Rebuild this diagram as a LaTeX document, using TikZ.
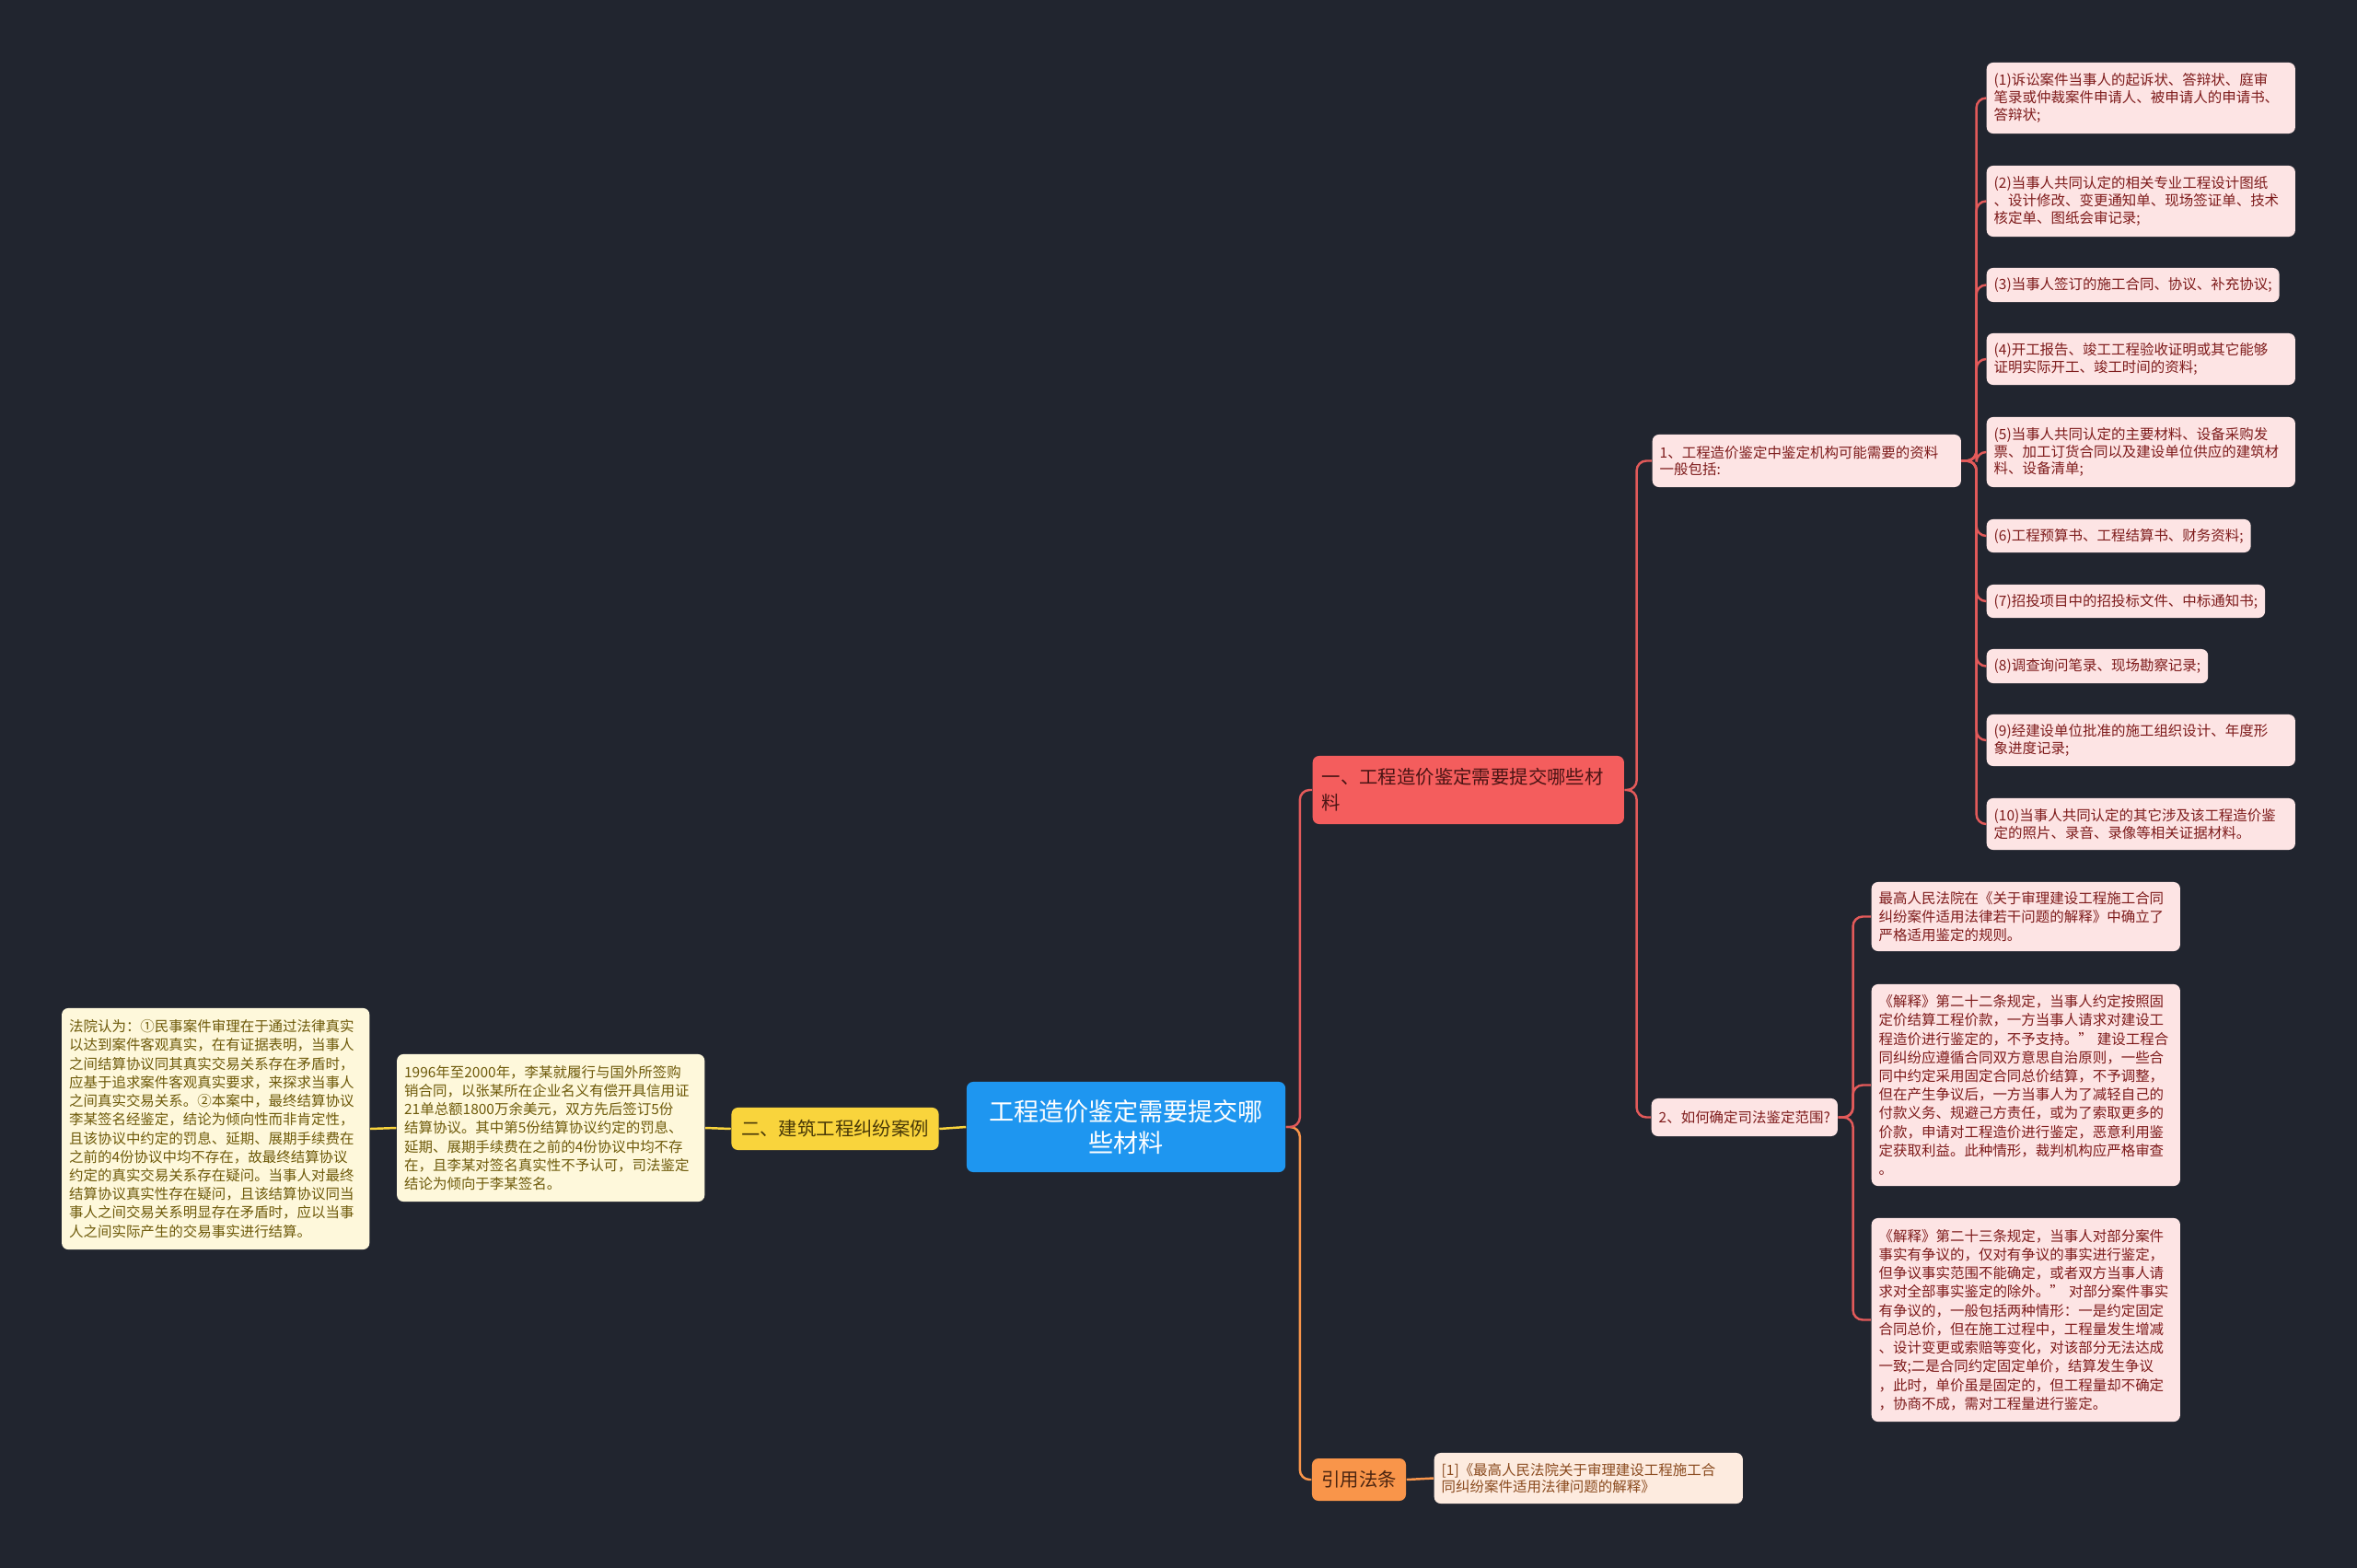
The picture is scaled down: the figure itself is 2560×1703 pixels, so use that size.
\documentclass[tikz,border=0pt]{standalone}
\usepackage{fontspec}
\setmainfont{Noto Sans CJK SC}
\usetikzlibrary{calc}
\definecolor{bgdark}{HTML}{21252F}
\definecolor{cBlue}{HTML}{1E96F0}
\definecolor{cRed}{HTML}{F45D5D}
\definecolor{cRedLine}{HTML}{E35A5A}
\definecolor{cRedTxt}{HTML}{4A1414}
\definecolor{cYellow}{HTML}{F9D43C}
\definecolor{cYellowTxt}{HTML}{4A3A08}
\definecolor{cOrange}{HTML}{F9954A}
\definecolor{cOrangeTxt}{HTML}{4A2410}
\definecolor{cPink}{HTML}{FDE4E4}
\definecolor{cPinkTxt}{HTML}{7E1B1B}
\definecolor{cCream}{HTML}{FEF8DB}
\definecolor{cCreamTxt}{HTML}{6E5A0A}
\definecolor{cPeach}{HTML}{FDEBDF}
\definecolor{cPeachTxt}{HTML}{8A4A1E}
\newcommand{\itemfont}{\fontsize{4.4}{5.3}\selectfont}
\newcommand{\notefont}{\fontsize{4.4}{5.75}\selectfont}

\begin{document}
\begin{tikzpicture}[x=0.01cm,y=-0.01cm,
  box/.style={rounded corners=2pt,inner xsep=0.08cm,inner ysep=0.05cm},
  mainbox/.style={box,fill=cBlue,text=white,align=center,minimum width=3.46cm,minimum height=0.98cm,font=\fontsize{7.7}{9.9}\selectfont},
  topicbox/.style={box,inner xsep=0.1cm,minimum height=0.46cm,font=\fontsize{5.8}{8}\selectfont},
  pinkbox/.style={box,fill=cPink,text=cPinkTxt,align=left,anchor=west,font=\itemfont},
  pinkwide/.style={pinkbox,text width=3.19cm},
  creambox/.style={box,fill=cCream,text=cCreamTxt,align=left,text width=3.18cm,font=\notefont},
  redline/.style={draw=cRedLine,line width=0.7pt,rounded corners=3pt},
  yellowline/.style={draw=cYellow,line width=0.7pt},
  orangeline/.style={draw=cOrange,line width=0.7pt,rounded corners=3pt}
]
\fill[bgdark] (0,0) rectangle (2560,1703);
\useasboundingbox (0,0) rectangle (2560,1703);

% centre
\node[mainbox] (root) at (1223,1224) {工程造价鉴定需要提交哪\\些材料};

% first level
\node[topicbox,fill=cRed,text=cRedTxt,anchor=west,text width=3.18cm,align=left,minimum height=0.74cm] (need) at (1425,858) {一、工程造价鉴定需要提交哪些材\\料};
\node[topicbox,fill=cYellow,text=cYellowTxt,minimum width=2.25cm] (case) at (907,1226) {二、建筑工程纠纷案例};
\node[topicbox,fill=cOrange,text=cOrangeTxt,minimum width=1.02cm] (cite) at (1476,1607) {引用法条};

% second level
\node[pinkwide,minimum height=0.57cm] (list) at (1794,500.5) {1、工程造价鉴定中鉴定机构可能需要的资料\\一般包括:};
\node[pinkbox,minimum height=0.41cm] (scope) at (1793,1213.5) {2、如何确定司法鉴定范围?};

% materials
\node[pinkwide,minimum height=0.77cm] (m1) at (2157,106.5) {(1)诉讼案件当事人的起诉状、答辩状、庭审\\笔录或仲裁案件申请人、被申请人的申请书、\\答辩状;};
\node[pinkwide,minimum height=0.77cm] (m2) at (2157,218.5) {(2)当事人共同认定的相关专业工程设计图纸\\、设计修改、变更通知单、现场签证单、技术\\核定单、图纸会审记录;};
\node[pinkbox,minimum height=0.37cm] (m3) at (2157,309.5) {(3)当事人签订的施工合同、协议、补充协议;};
\node[pinkwide,minimum height=0.56cm] (m4) at (2157,390) {(4)开工报告、竣工工程验收证明或其它能够\\证明实际开工、竣工时间的资料;};
\node[pinkwide,minimum height=0.76cm] (m5) at (2157,491) {(5)当事人共同认定的主要材料、设备采购发\\票、加工订货合同以及建设单位供应的建筑材\\料、设备清单;};
\node[pinkbox,minimum height=0.36cm] (m6) at (2157,582) {(6)工程预算书、工程结算书、财务资料;};
\node[pinkbox,minimum height=0.36cm] (m7) at (2157,653) {(7)招投项目中的招投标文件、中标通知书;};
\node[pinkbox,minimum height=0.37cm] (m8) at (2157,723.5) {(8)调查询问笔录、现场勘察记录;};
\node[pinkwide,minimum height=0.56cm] (m9) at (2157,804) {(9)经建设单位批准的施工组织设计、年度形\\象进度记录;};
\node[pinkwide,minimum height=0.56cm] (m10) at (2157,895) {(10)当事人共同认定的其它涉及该工程造价鉴\\定的照片、录音、录像等相关证据材料。};

% scope notes
\node[pinkwide,font=\notefont,minimum height=0.75cm] (s1) at (2032,995.5) {最高人民法院在《关于审理建设工程施工合同\\纠纷案件适用法律若干问题的解释》中确立了\\严格适用鉴定的规则。};
\node[pinkwide,font=\notefont,minimum height=2.19cm] (s2) at (2032,1178.5) {《解释》第二十二条规定，当事人约定按照固\\定价结算工程价款，一方当事人请求对建设工\\程造价进行鉴定的，不予支持。” 建设工程合\\同纠纷应遵循合同双方意思自治原则，一些合\\同中约定采用固定合同总价结算，不予调整，\\但在产生争议后，一方当事人为了减轻自己的\\付款义务、规避己方责任，或为了索取更多的\\价款，申请对工程造价进行鉴定，恶意利用鉴\\定获取利益。此种情形，裁判机构应严格审查\\。};
\node[pinkwide,font=\notefont,minimum height=2.21cm] (s3) at (2032,1433.5) {《解释》第二十三条规定，当事人对部分案件\\事实有争议的，仅对有争议的事实进行鉴定，\\但争议事实范围不能确定，或者双方当事人请\\求对全部事实鉴定的除外。” 对部分案件事实\\有争议的，一般包括两种情形：一是约定固定\\合同总价，但在施工过程中，工程量发生增减\\、设计变更或索赔等变化，对该部分无法达成\\一致;二是合同约定固定单价，结算发生争议\\，此时，单价虽是固定的，但工程量却不确定\\，协商不成，需对工程量进行鉴定。};

% case
\node[creambox,anchor=east,minimum height=1.6cm] (facts) at (766,1225) {1996年至2000年，李某就履行与国外所签购\\销合同，以张某所在企业名义有偿开具信用证\\21单总额1800万余美元，双方先后签订5份\\结算协议。其中第5份结算协议约定的罚息、\\延期、展期手续费在之前的4份协议中均不存\\在，且李某对签名真实性不予认可，司法鉴定\\结论为倾向于李某签名。};
\node[creambox,anchor=east,minimum height=2.62cm] (court) at (402,1226) {法院认为：①民事案件审理在于通过法律真实\\以达到案件客观真实，在有证据表明，当事人\\之间结算协议同其真实交易关系存在矛盾时，\\应基于追求案件客观真实要求，来探求当事人\\之间真实交易关系。②本案中，最终结算协议\\李某签名经鉴定，结论为倾向性而非肯定性，\\且该协议中约定的罚息、延期、展期手续费在\\之前的4份协议中均不存在，故最终结算协议\\约定的真实交易关系存在疑问。当事人对最终\\结算协议真实性存在疑问，且该结算协议同当\\事人之间交易关系明显存在矛盾时，应以当事\\人之间实际产生的交易事实进行结算。};

% reference
\node[box,fill=cPeach,text=cPeachTxt,align=left,text width=3.19cm,font=\itemfont,anchor=west,minimum height=0.55cm] (law) at (1557,1605.5) {[1]《最高人民法院关于审理建设工程施工合\\同纠纷案件适用法律问题的解释》};

% connectors
\draw[orangeline] (root.east) -- ++(15,0) |- (cite.west);
\draw[redline] (root.east) -- ++(15,0) |- (need.west);
\draw[yellowline] (root.west) -- (case.east);
\draw[yellowline] (case.west) -- (facts.east);
\draw[yellowline] (facts.west) -- (court.east);
\draw[orangeline] (cite.east) -- (law.west);
\foreach \n in {list,scope} \draw[redline] (need.east) -- ++(13,0) |- (\n.west);
\foreach \i in {1,...,10} \draw[redline] (list.east) -- ++(16,0) |- (m\i.west);
\foreach \i in {1,2,3} \draw[redline] (scope.east) -- ++(16,0) |- (s\i.west);
\end{tikzpicture}
\end{document}
